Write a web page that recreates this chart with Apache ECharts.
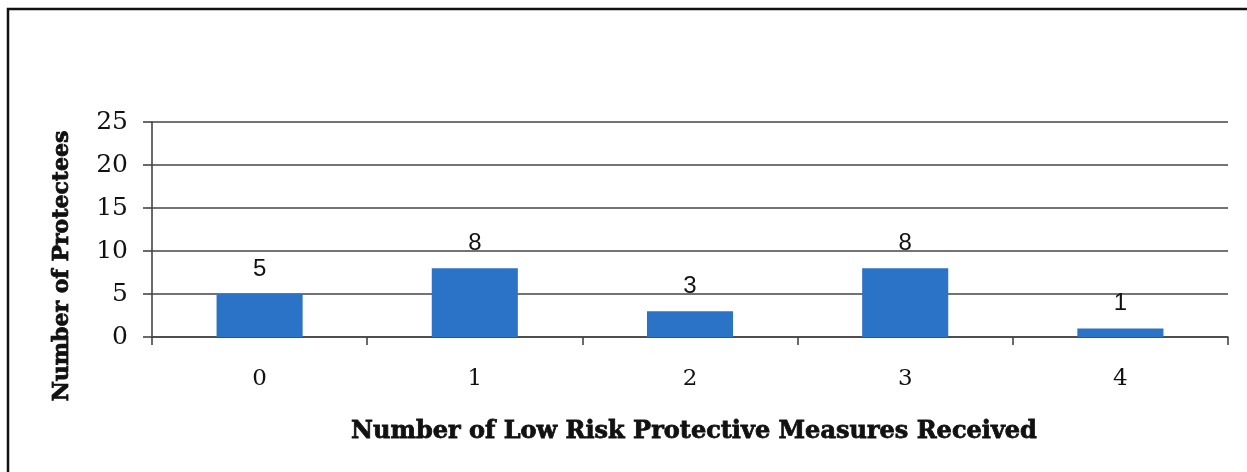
<!DOCTYPE html>
<html>
<head>
<meta charset="utf-8">
<script src="https://cdn.jsdelivr.net/npm/echarts@6/dist/echarts.min.js"></script>
<style>
  html, body { margin: 0; padding: 0; background: #fff; }
  #chart { width: 1247px; height: 472px; }
</style>
</head>
<body>
<div id="chart"></div>
<script>
// Protectees by number of low risk protective measures received
const categories = ['0', '1', '2', '3', '4'];
const protectees = [5, 8, 3, 8, 1];
const yTicks = { min: 0, max: 25, interval: 5 };
const xTitle = 'Number of Low Risk Protective Measures Received';
const yTitle = 'Number of Protectees';

const serif = '"DejaVu Serif", "Liberation Serif", serif';
const lineColor = '#444444';

const chart = echarts.init(document.getElementById('chart'), null, { renderer: 'canvas' });

chart.setOption({
  backgroundColor: '#ffffff',
  animation: false,
  grid: { left: 152, right: 19, top: 122, bottom: 135, containLabel: false },
  xAxis: {
    type: 'category',
    data: categories,
    boundaryGap: true,
    axisLine: { show: true, lineStyle: { color: lineColor, width: 1.6 } },
    axisTick: { show: true, alignWithLabel: false, length: 8, lineStyle: { color: lineColor, width: 1.6 } },
    axisLabel: { margin: 31, color: '#111', fontFamily: serif, fontSize: 23 },
    splitLine: { show: false }
  },
  yAxis: {
    type: 'value',
    min: yTicks.min,
    max: yTicks.max,
    interval: yTicks.interval,
    axisLine: { show: true, lineStyle: { color: lineColor, width: 1.6 } },
    axisTick: { show: true, length: 9, lineStyle: { color: lineColor, width: 1.6 } },
    axisLabel: { margin: 24, color: '#111', fontFamily: serif, fontSize: 25 },
    splitLine: { show: true, lineStyle: { color: lineColor, width: 1.6 } }
  },
  series: [{
    type: 'bar',
    data: protectees,
    barWidth: '40%',
    itemStyle: { color: '#2b73c6' },
    label: {
      show: true,
      position: 'top',
      distance: 13,
      color: '#111',
      fontFamily: '"Liberation Sans", Arial, sans-serif',
      fontSize: 24
    }
  }],
  graphic: [
    {
      type: 'rect',
      silent: true,
      shape: { x: 8, y: 9, width: 1400, height: 600 },
      style: { fill: 'none', stroke: '#111', lineWidth: 2.5 }
    },
    {
      type: 'text',
      x: 694,
      y: 432,
      style: {
        text: xTitle,
        fill: '#111',
        stroke: '#111',
        lineWidth: 0.8,
        font: 'bold 24px ' + serif,
        align: 'center',
        verticalAlign: 'middle'
      }
    },
    {
      type: 'text',
      x: 62,
      y: 266,
      rotation: Math.PI / 2,
      style: {
        text: yTitle,
        fill: '#111',
        stroke: '#111',
        lineWidth: 0.8,
        font: 'bold 22px ' + serif,
        align: 'center',
        verticalAlign: 'middle'
      }
    }
  ]
});
</script>
</body>
</html>
